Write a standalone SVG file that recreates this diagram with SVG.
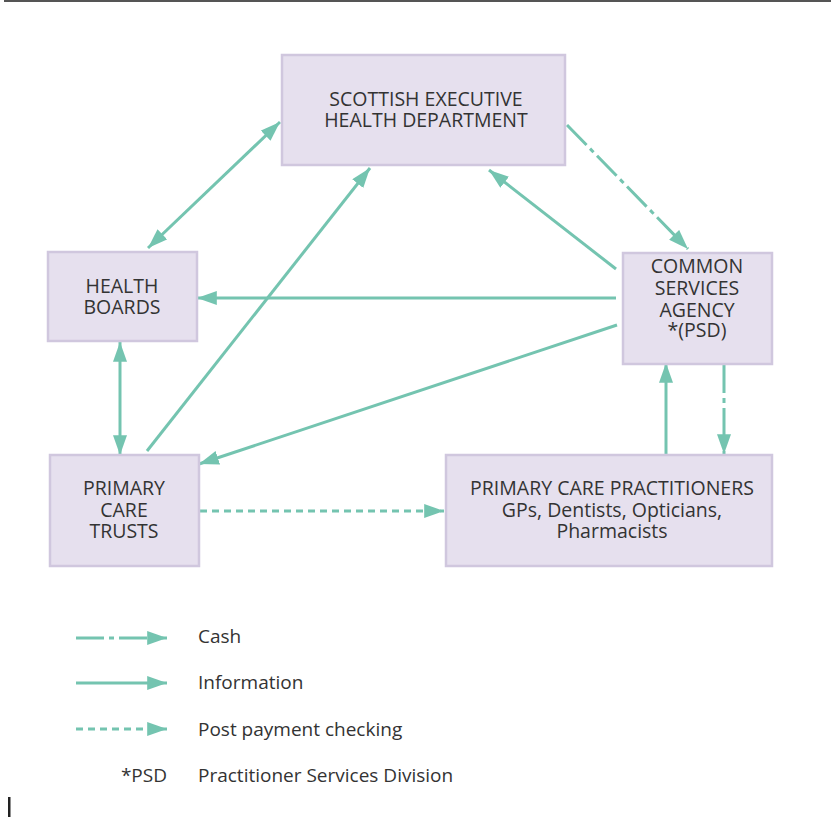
<svg xmlns="http://www.w3.org/2000/svg" width="831" height="817" viewBox="0 0 831 817">
<style>
.box{fill:#E6E0EE;stroke:#D0C7DE;stroke-width:2.5}
.t{font-family:"Open Sans","Liberation Sans",sans-serif;font-size:19.5px;fill:#333;text-anchor:middle}
.lt{font-family:"Open Sans","Liberation Sans",sans-serif;font-size:19px;fill:#333}
.c{fill:none;stroke:#74C4B0;stroke-width:3}
.cash{stroke-dasharray:28 5 5 5}
.ppc{stroke-dasharray:7 5}
</style>
<defs>
<marker id="ah" markerUnits="userSpaceOnUse" markerWidth="20" markerHeight="14" viewBox="0 0 17 12" refX="17" refY="6" orient="auto-start-reverse">
<path d="M0,0 L17,6 L0,12 Z" fill="#74C4B0"/>
</marker>
</defs>
<rect x="4" y="0" width="827" height="2" fill="#555"/>
<rect x="8" y="797" width="2.5" height="20" fill="#222"/>

<g id="connectors">
<line class="c" x1="148" y1="248" x2="280" y2="122" marker-start="url(#ah)" marker-end="url(#ah)"/>
<line class="c" x1="616" y1="269" x2="489" y2="170" marker-end="url(#ah)"/>
<line class="c cash" x1="567" y1="125" x2="688" y2="249" marker-end="url(#ah)"/>
<line class="c" x1="616" y1="298" x2="197" y2="298" marker-end="url(#ah)"/>
<line class="c" x1="617" y1="325" x2="199" y2="464" marker-end="url(#ah)"/>
<line class="c" x1="120" y1="342" x2="120" y2="455" marker-start="url(#ah)" marker-end="url(#ah)"/>
<line class="c" x1="147" y1="451" x2="370" y2="168" marker-end="url(#ah)"/>
<line class="c ppc" x1="200" y1="511" x2="444" y2="511" marker-end="url(#ah)"/>
<line class="c" x1="666" y1="454" x2="666" y2="363" marker-end="url(#ah)"/>
<line class="c cash" x1="724" y1="365" x2="724" y2="454" marker-end="url(#ah)"/>
</g>

<g id="sehd">
<rect class="box" x="282" y="55" width="283" height="110"/>
<text class="t" x="426" y="106">SCOTTISH EXECUTIVE</text>
<text class="t" x="426" y="127">HEALTH DEPARTMENT</text>
</g>
<g id="hb">
<rect class="box" x="48" y="252" width="149" height="89"/>
<text class="t" x="122" y="293">HEALTH</text>
<text class="t" x="122" y="314">BOARDS</text>
</g>
<g id="csa">
<rect class="box" x="623" y="253" width="149" height="111"/>
<text class="t" x="697" y="273">COMMON</text>
<text class="t" x="697" y="295">SERVICES</text>
<text class="t" x="697" y="317">AGENCY</text>
<text class="t" x="697" y="337">*(PSD)</text>
</g>
<g id="pct">
<rect class="box" x="50" y="455" width="149" height="111"/>
<text class="t" x="124" y="495">PRIMARY</text>
<text class="t" x="124" y="517">CARE</text>
<text class="t" x="124" y="538">TRUSTS</text>
</g>
<g id="pcp">
<rect class="box" x="446" y="455" width="326" height="111"/>
<text class="t" x="612" y="495">PRIMARY CARE PRACTITIONERS</text>
<text class="t" x="612" y="517">GPs, Dentists, Opticians,</text>
<text class="t" x="612" y="538">Pharmacists</text>
</g>

<g id="legend">
<line class="c cash" x1="76" y1="638" x2="167" y2="638" marker-end="url(#ah)"/>
<line class="c" x1="76" y1="683" x2="167" y2="683" marker-end="url(#ah)"/>
<line class="c ppc" x1="76" y1="729" x2="167" y2="729" marker-end="url(#ah)"/>
<text class="lt" x="198" y="643">Cash</text>
<text class="lt" x="198" y="689">Information</text>
<text class="lt" x="198" y="736">Post payment checking</text>
<text class="lt" x="167" y="782" text-anchor="end">*PSD</text>
<text class="lt" x="198" y="782">Practitioner Services Division</text>
</g>
</svg>
